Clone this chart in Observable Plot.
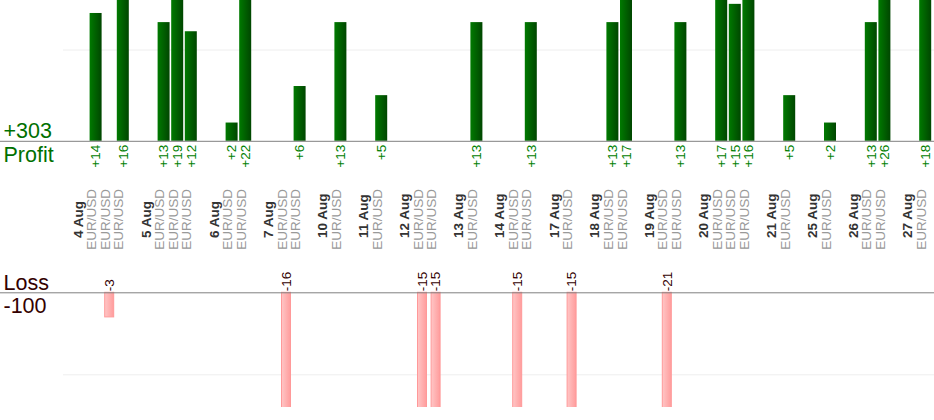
<!DOCTYPE html>
<html>
<head>
<meta charset="utf-8">
<script src="https://cdn.jsdelivr.net/npm/d3@7"></script>
<script src="https://cdn.jsdelivr.net/npm/@observablehq/plot@0.6"></script>
<style>
  body { margin: 0; background: #fff; }
  #chart { width: 934px; height: 420px; overflow: hidden; background: #fff; }
  #chart svg { display: block; }
</style>
</head>
<body>
<div id="chart"></div>
<script>
// ---- data ----
const days = ["4 Aug","5 Aug","6 Aug","7 Aug","10 Aug","11 Aug","12 Aug","13 Aug","14 Aug","17 Aug","18 Aug","19 Aug","20 Aug","21 Aug","25 Aug","26 Aug","27 Aug"];
const tradeDay = ["4 Aug","4 Aug","4 Aug","5 Aug","5 Aug","5 Aug","6 Aug","6 Aug","7 Aug","7 Aug","10 Aug","11 Aug","12 Aug","12 Aug","13 Aug","14 Aug","14 Aug","17 Aug","18 Aug","18 Aug","19 Aug","19 Aug","20 Aug","20 Aug","20 Aug","21 Aug","25 Aug","26 Aug","26 Aug","27 Aug"];
const tradePair = ["EUR/USD","EUR/USD","EUR/USD","EUR/USD","EUR/USD","EUR/USD","EUR/USD","EUR/USD","EUR/USD","EUR/USD","EUR/USD","EUR/USD","EUR/USD","EUR/USD","EUR/USD","EUR/USD","EUR/USD","EUR/USD","EUR/USD","EUR/USD","EUR/USD","EUR/USD","EUR/USD","EUR/USD","EUR/USD","EUR/USD","EUR/USD","EUR/USD","EUR/USD","EUR/USD"];
const tradeResult = [14,-3,16, 13,19,12, 2,22, -16,6, 13, 5, -15,-15, 13, -15,13, -15, 13,17, -21,13, 17,15,16, 5, 2, 13,26, 18];
const profitLabel = "Profit";
const lossLabel = "Loss";

// ---- tables built from the arrays ----
const trades = tradeResult.map((v, i) => ({i, day: tradeDay[i], pair: tradePair[i], value: v, slot: "t" + i}));
const slots = [];
for (const d of days) {
  slots.push("d:" + d);
  trades.filter(t => t.day === d).forEach(t => slots.push(t.slot));
  slots.push("s:" + d);
}
const dayRows = days.map(d => ({day: d, slot: "d:" + d}));
const profits = trades.filter(t => t.value > 0);
const losses = trades.filter(t => t.value < 0);
const totalProfit = d3.sum(profits, d => d.value);
const totalLoss = d3.sum(losses, d => d.value);

const font = "'Liberation Sans', Arial, Helvetica, sans-serif";
const small = 13.5, big = 21.5;
const slotW = 13.6, x0 = 75.2;
const xScale = {type: "band", domain: slots, range: [x0, x0 + slots.length * slotW], padding: 0, round: false, axis: null};

function addGrad(svg, id, c0, c1) {
  const defs = d3.select(svg).insert("defs", ":first-child");
  const g = defs.append("linearGradient").attr("id", id)
    .attr("x1", "0").attr("x2", "1").attr("y1", "0").attr("y2", "0");
  g.append("stop").attr("offset", "0").attr("stop-color", c0);
  g.append("stop").attr("offset", "1").attr("stop-color", c1);
}

const topPlot = Plot.plot({
  width: 934, height: 260,
  marginTop: 0, marginBottom: 0, marginLeft: 63, marginRight: 0,
  style: {fontFamily: font, background: "white"},
  x: xScale,
  y: {domain: [0, 10], range: [140.8, 49.5], axis: null},
  marks: [
    Plot.ruleY([10], {stroke: "#eeeeee"}),
    Plot.barY(profits, {x: "slot", y: "value", fill: "url(#gradProfit)", insetLeft: 0.8, insetRight: 0.8}),
    Plot.ruleY([0], {stroke: "#808080", insetLeft: -63}),
    Plot.text(profits, {x: "slot", y: () => 0, text: d => "+" + d.value, rotate: -90, textAnchor: "end", dy: 3.5, fill: "#008000", fontSize: small, fontFamily: font}),
    Plot.text(dayRows, {x: "slot", frameAnchor: "bottom", dy: -22.5, text: "day", rotate: -90, textAnchor: "start", fontWeight: "bold", fill: "#333333", fontSize: small, fontFamily: font}),
    Plot.text(trades, {x: "slot", frameAnchor: "bottom", dy: -10.8, text: "pair", rotate: -90, textAnchor: "start", fill: "#999999", fontSize: small, fontFamily: font}),
    Plot.text([{label: "+" + totalProfit, v: 0}], {y: "v", text: "label", frameAnchor: "left", dx: -60, dy: -3.5, textAnchor: "start", lineAnchor: "bottom", fontSize: big, fontFamily: font, fill: "#007000"}),
    Plot.text([{label: profitLabel, v: 0}], {y: "v", text: "label", frameAnchor: "left", dx: -60, dy: 5, textAnchor: "start", lineAnchor: "top", fontSize: big, fontFamily: font, fill: "#007000"})
  ]
});
addGrad(topPlot, "gradProfit", "#007a00", "#004600");

const bottomPlot = Plot.plot({
  width: 934, height: 160,
  marginTop: 0, marginBottom: 13, marginLeft: 63, marginRight: 0,
  style: {fontFamily: font, background: "white"},
  x: xScale,
  y: {domain: [0, -10], range: [32.3, 114.3], axis: null},
  marks: [
    Plot.ruleY([-10], {stroke: "#eeeeee"}),
    Plot.barY(losses, {x: "slot", y: "value", fill: "url(#gradLoss)", stroke: "#ff9999", strokeWidth: 1, insetLeft: 2.3, insetRight: 2.3, clip: true}),
    Plot.ruleY([0], {stroke: "#808080", insetLeft: -63}),
    Plot.text(losses, {x: "slot", y: () => 0, text: d => String(d.value), rotate: -90, textAnchor: "start", dy: -1.5, fill: "#330000", fontSize: small, fontFamily: font}),
    Plot.text([{label: lossLabel, v: 0}], {y: "v", text: "label", frameAnchor: "left", dx: -60, dy: -3.3, textAnchor: "start", lineAnchor: "bottom", fontSize: big, fontFamily: font, fill: "#330000"}),
    Plot.text([{label: String(totalLoss), v: 0}], {y: "v", text: "label", frameAnchor: "left", dx: -60, dy: 4.5, textAnchor: "start", lineAnchor: "top", fontSize: big, fontFamily: font, fill: "#330000"})
  ]
});
addGrad(bottomPlot, "gradLoss", "#ffc6c6", "#ff9c9c");

const chart = document.getElementById("chart");
chart.append(topPlot);
chart.append(bottomPlot);
</script>
</body>
</html>
